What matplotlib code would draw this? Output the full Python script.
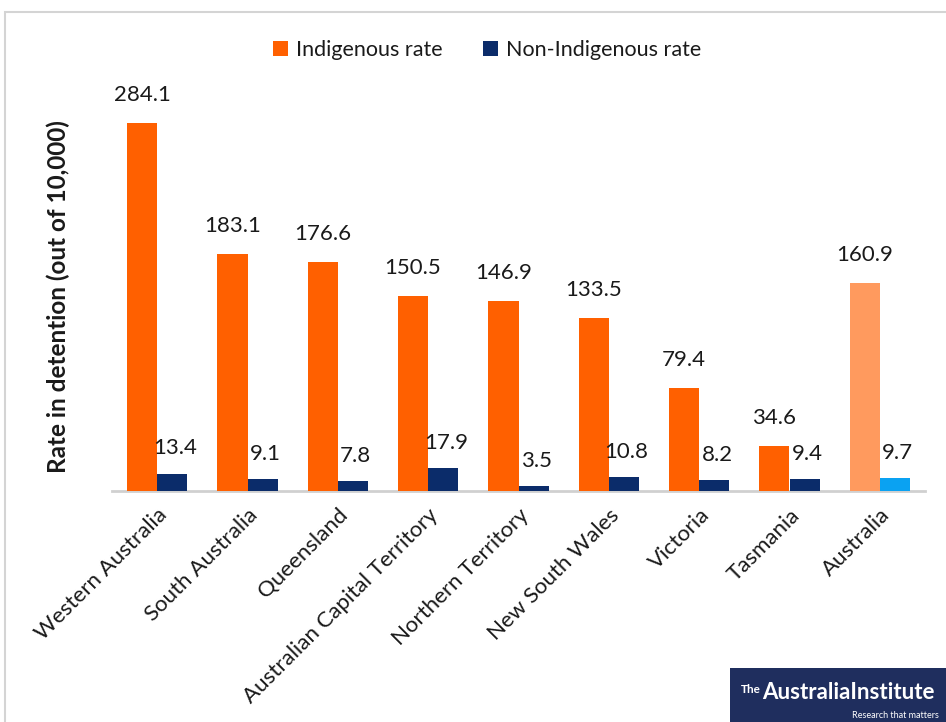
import matplotlib
matplotlib.use("Agg")
from matplotlib import pyplot as plt
from matplotlib.patches import Rectangle

plt.rcParams["font.family"] = ["Lato", "DejaVu Sans"]

states = ["Western Australia", "South Australia", "Queensland",
          "Australian Capital Territory", "Northern Territory",
          "New South Wales", "Victoria", "Tasmania", "Australia"]
indigenous = [284.1, 183.1, 176.6, 150.5, 146.9, 133.5, 79.4, 34.6, 160.9]
non_indigenous = [13.4, 9.1, 7.8, 17.9, 3.5, 10.8, 8.2, 9.4, 9.7]

ORANGE = "#FF6000"
NAVY = "#0B2C6A"
ORANGE_LIGHT = "#FF9A5E"
BLUE_LIGHT = "#0AA2F2"
TEXT = "#1A1A1A"

W, H = 946, 722
fig = plt.figure(figsize=(W / 100, H / 100), dpi=100)

# outer frame of the chart area
fig.patches.append(Rectangle((5 / W, -0.05), 1.1, (H - 12) / H + 0.05, transform=fig.transFigure,
                             fill=False, edgecolor="#d4d4d4", linewidth=1.5))

ax = fig.add_axes([112 / W, 231 / H, 813 / W, 388.5 / H])
n = len(states)
x = list(range(n))
bw = 0.335

c_ind = [ORANGE] * (n - 1) + [ORANGE_LIGHT]
c_non = [NAVY] * (n - 1) + [BLUE_LIGHT]
b1 = ax.bar([i - bw / 2 for i in x], indigenous, bw, color=c_ind, label="Indigenous rate", zorder=3)
b2 = ax.bar([i + bw / 2 for i in x], non_indigenous, bw, color=c_non, label="Non-Indigenous rate", zorder=3)

for rect, v in zip(b1, indigenous):
    ax.annotate(f"{v:.1f}", (rect.get_x() + rect.get_width() / 2, v), xytext=(0, 13),
                textcoords="offset points", ha="center", va="bottom", fontsize=16, color=TEXT)
for rect, v in zip(b2, non_indigenous):
    ax.annotate(f"{v:.1f}", (rect.get_x() + rect.get_width() / 2 + 0.03, v), xytext=(0, 11),
                textcoords="offset points", ha="center", va="bottom", fontsize=16, color=TEXT)

ax.set_xlim(-0.5, n - 0.5)
ax.set_ylim(0, 300)
ax.set_xticks(x)
ax.set_xticklabels(states, rotation=45, ha="right", rotation_mode="anchor", fontsize=16, color=TEXT)
ax.tick_params(axis="x", length=0, pad=10)
ax.set_yticks([])
for side in ["left", "right", "top"]:
    ax.spines[side].set_visible(False)
ax.spines["bottom"].set_color("#d0d0d0")
ax.spines["bottom"].set_linewidth(2)
ax.set_ylabel("Rate in detention (out of 10,000)", fontsize=17.5, fontweight="bold",
              color=TEXT, labelpad=30)

fig.legend(handles=[b1[0], b2[0]], labels=["Indigenous rate", "Non-Indigenous rate"],
           loc="center", bbox_to_anchor=(487 / W, 1 - 50 / H), ncol=2, frameon=False,
           fontsize=15.5, handlelength=0.7, handleheight=0.7, columnspacing=1.9,
           handletextpad=0.35, labelcolor=TEXT)

# logo block
fig.patches.append(Rectangle((730 / W, 0), 216 / W, 54 / H, transform=fig.transFigure,
                             facecolor="#1F2E5E", edgecolor="none"))
fig.text(741 / W, 1 - 695 / H, "The", fontsize=8.5, color="white", fontweight="bold", va="bottom")
fig.text(762 / W, 1 - 703 / H, "AustraliaInstitute", fontsize=16, color="white",
         fontweight="bold", va="bottom")
fig.text(852 / W, 1 - 720 / H, "Research that matters", fontsize=6.5, color="white", va="bottom")

fig.savefig("out.png", dpi=100)
